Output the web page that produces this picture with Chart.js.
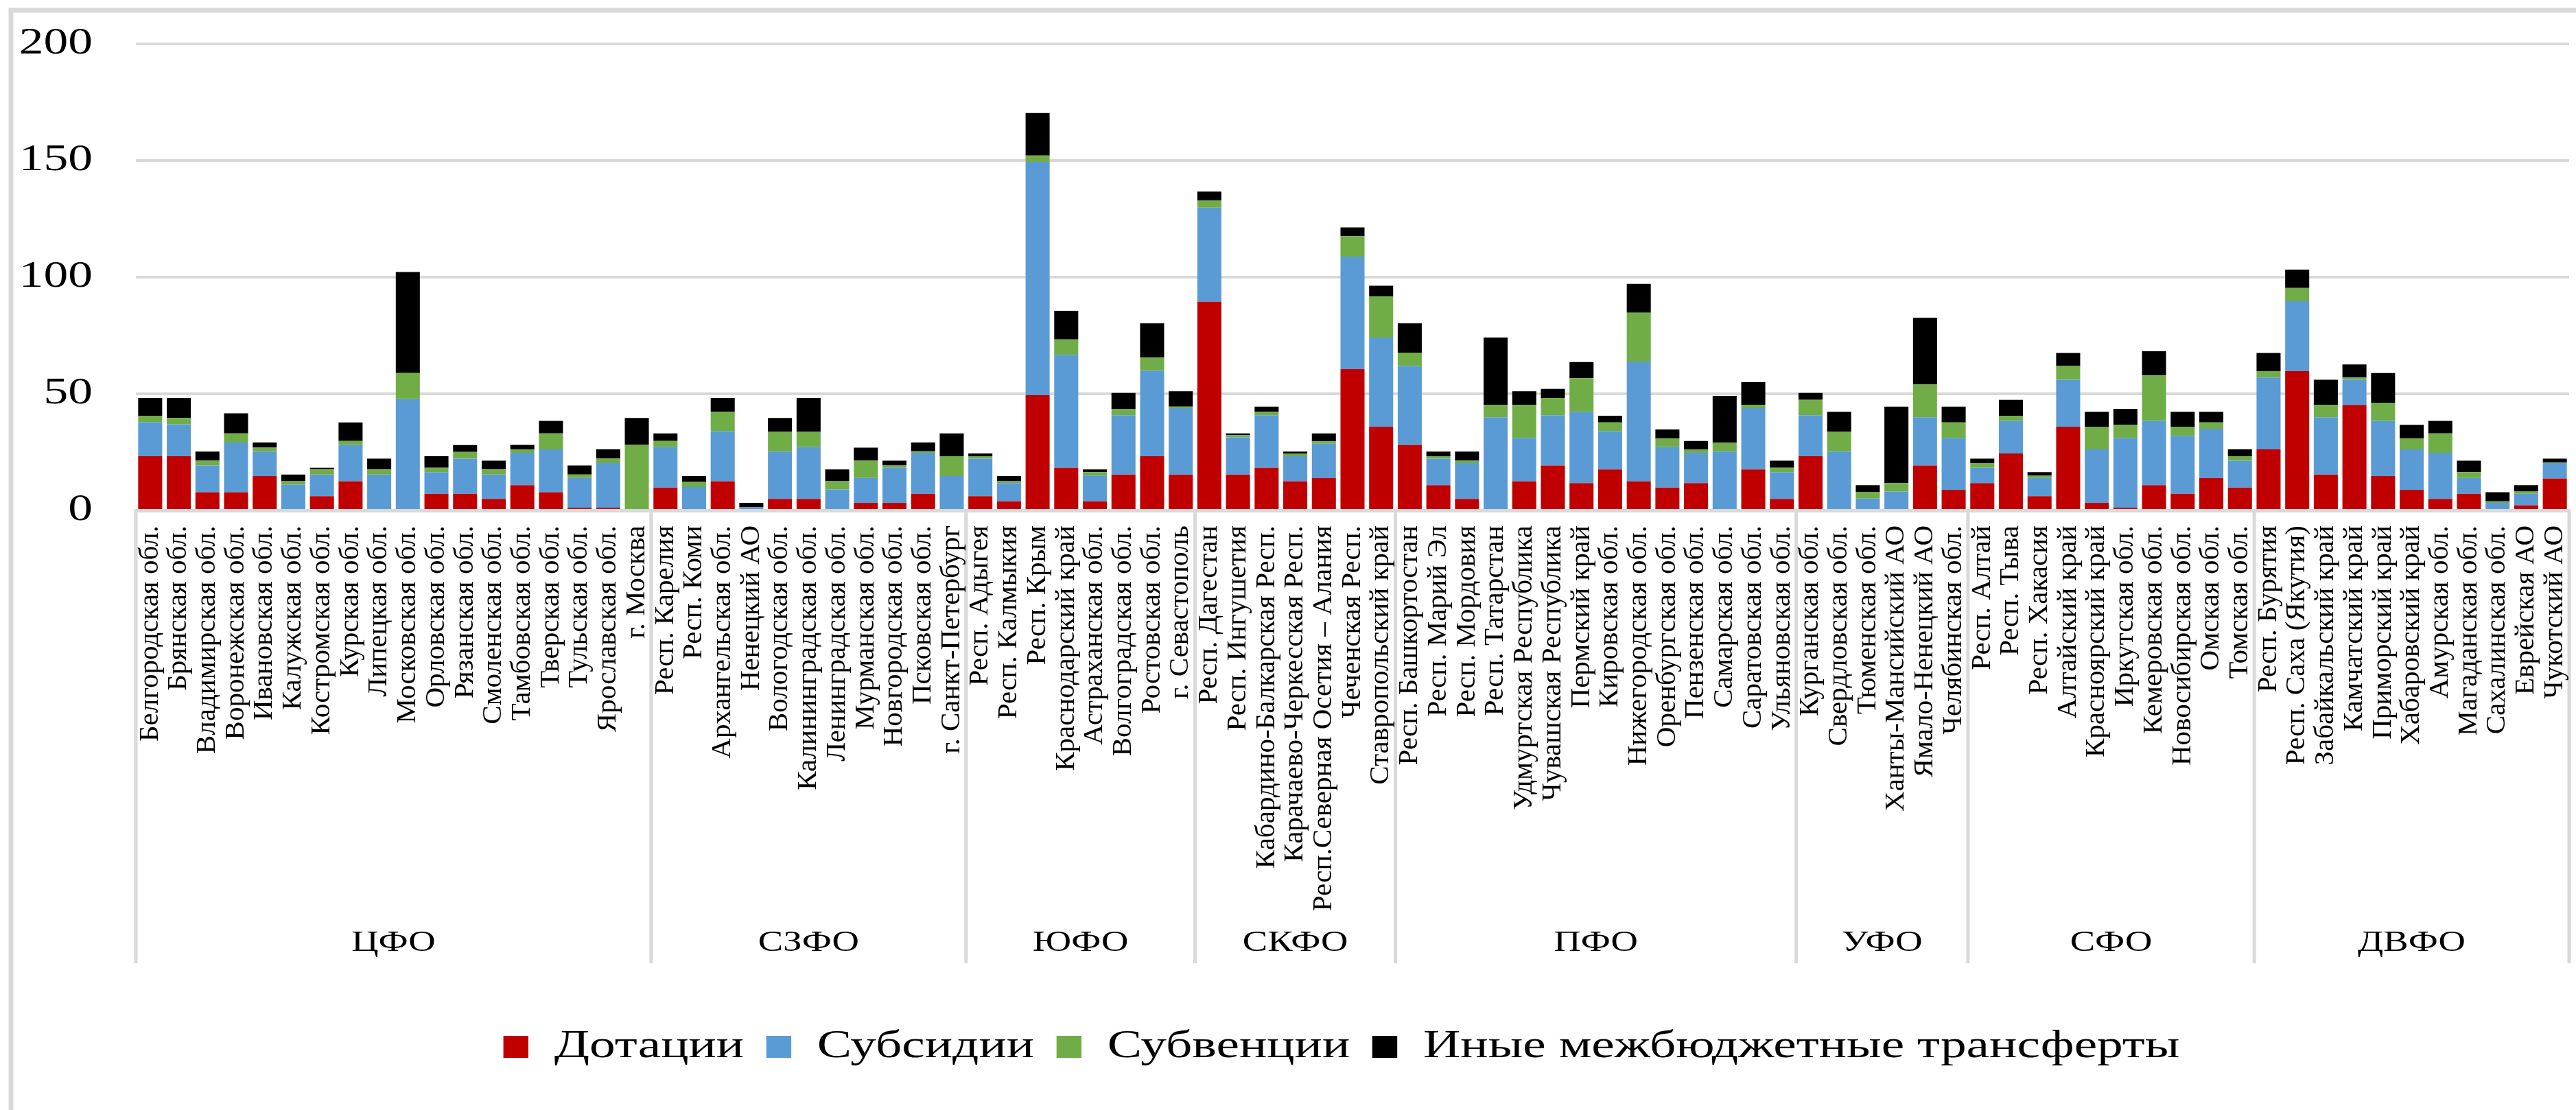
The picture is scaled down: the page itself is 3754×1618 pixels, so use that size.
<!DOCTYPE html>
<html><head><meta charset="utf-8">
<style>html,body{margin:0;padding:0;background:#fff;} canvas{display:block;}</style>
<script src="https://cdn.jsdelivr.net/npm/chart.js@4.4.1/dist/chart.umd.min.js"></script>
</head><body>
<canvas id="c" width="3754" height="1618" style="width:3754px;height:1618px"></canvas>
<script>
const regions = [
"Белгородская обл.","Брянская обл.","Владимирская обл.","Воронежская обл.","Ивановская обл.","Калужская обл.","Костромская обл.","Курская обл.","Липецкая обл.","Московская обл.","Орловская обл.","Рязанская обл.","Смоленская обл.","Тамбовская обл.","Тверская обл.","Тульская обл.","Ярославская обл.","г. Москва",
"Респ. Карелия","Респ. Коми","Архангельская обл.","Ненецкий АО","Вологодская обл.","Калининградская обл.","Ленинградская обл.","Мурманская обл.","Новгородская обл.","Псковская обл.","г. Санкт-Петербург",
"Респ. Адыгея","Респ. Калмыкия","Респ. Крым","Краснодарский край","Астраханская обл.","Волгоградская обл.","Ростовская обл.","г. Севастополь",
"Респ. Дагестан","Респ. Ингушетия","Кабардино-Балкарская Респ.","Карачаево-Черкесская Респ.","Респ.Северная Осетия – Алания","Чеченская Респ.","Ставропольский край",
"Респ. Башкортостан","Респ. Марий Эл","Респ. Мордовия","Респ. Татарстан","Удмуртская Республика","Чувашская Республика","Пермский край","Кировская обл.","Нижегородская обл.","Оренбургская обл.","Пензенская обл.","Самарская обл.","Саратовская обл.","Ульяновская обл.",
"Курганская обл.","Свердловская обл.","Тюменская обл.","Ханты-Мансийский АО","Ямало-Ненецкий АО","Челябинская обл.",
"Респ. Алтай","Респ. Тыва","Респ. Хакасия","Алтайский край","Красноярский край","Иркутская обл.","Кемеровская обл.","Новосибирская обл.","Омская обл.","Томская обл.",
"Респ. Бурятия","Респ. Саха (Якутия)","Забайкальский край","Камчатский край","Приморский край","Хабаровский край","Амурская обл.","Магаданская обл.","Сахалинская обл.","Еврейская АО","Чукотский АО"
];
const districts = ["ЦФО","СЗФО","ЮФО","СКФО","ПФО","УФО","СФО","ДВФО"];
const districtSizes = [18,11,8,7,14,6,10,11];
const dotacii = [
23.2,23.2,7.8,7.8,14.7,0,6.1,12.5,0,0,7.1,7.1,4.9,10.8,7.8,1.2,1.2,0,
9.8,0,12.5,0,4.9,4.9,0,3.2,3.2,7.1,0,
6.1,3.9,49.4,18.3,3.9,15.4,23.2,15.4,
89.5,15.4,18.3,12.5,13.9,60.6,35.9,
28.1,10.8,4.9,0,12.5,19.3,11.7,17.6,12.5,9.8,11.7,0,17.6,4.9,
23.2,0,0,0,19.3,8.8,
11.7,24.4,6.1,35.9,3.2,1.2,10.8,7.1,13.9,9.8,
26.2,59.7,15.4,45.2,14.7,8.8,4.9,7.1,0,2.2,13.7
];
const subsidii = [
14.7,13.7,11.5,21.3,10.5,11.0,9.3,15.6,15.4,47.7,9.3,15.1,10.5,13.9,18.4,12.7,19.1,0,
17.3,10.0,21.5,1.5,20.3,22.2,9.0,10.7,15.1,17.6,14.7,
16.1,7.8,100.0,48.4,11.0,25.4,36.7,28.4,
40.3,15.9,22.5,10.7,14.7,48.2,38.2,
33.8,11.4,15.4,39.9,18.6,21.5,30.6,16.4,51.3,17.3,13.0,25.2,26.2,11.5,
17.6,25.2,5.1,8.1,20.6,22.3,
6.6,14.0,7.8,20.1,23.0,29.9,27.6,24.9,21.1,11.5,
30.8,30.0,24.5,10.8,23.7,17.4,19.8,6.8,3.2,4.9,6.6
];
const subvencii = [
2.7,2.7,2.0,3.9,1.7,1.5,2.2,1.7,2.2,11.2,1.9,2.9,2.2,1.5,6.8,1.5,1.9,28.1,
2.7,2.2,8.3,0,8.5,6.6,3.5,7.4,1.0,0.7,8.5,
1.0,0.8,2.7,6.6,1.5,2.7,5.6,0.7,
3.0,1.0,1.5,1.2,1.0,8.8,17.6,
5.6,1.0,1.0,5.3,14.1,7.4,14.4,3.7,21.0,3.7,1.5,3.9,1.4,1.9,
6.6,8.5,2.7,3.6,14.1,6.6,
2.0,2.2,1.0,5.9,9.7,5.6,19.5,3.9,2.7,1.9,
2.7,5.7,5.3,1.0,7.8,4.6,8.3,2.5,0.7,1.0,0.2
];
const inye = [
7.6,8.6,3.9,8.6,2.2,2.9,0.7,7.9,4.6,43.3,4.9,2.9,3.7,1.9,5.4,3.9,4.0,11.5,
3.2,2.5,5.9,1.7,5.9,14.5,5.1,5.6,2.0,3.7,9.8,
1.2,2.2,18.3,12.3,1.2,6.9,14.7,6.6,
3.9,0.7,2.2,0.8,3.4,3.7,4.6,
12.7,2.0,3.9,28.9,5.9,3.9,6.9,2.9,12.3,3.9,3.6,20.0,9.8,3.0,
3.0,8.6,3.0,32.8,28.6,6.8,
1.9,6.8,1.5,5.6,6.4,6.8,10.3,6.4,4.6,3.0,
7.8,7.8,10.8,5.6,12.7,5.9,5.4,4.9,3.9,2.7,1.7
];
const yTicks = [0,50,100,150,200];

const GRID = '#d9d9d9';
const STRETCH = 1.3;
const LEGEND_CX = 1955;

const bounds = [0];
districtSizes.forEach(n => bounds.push(bounds[bounds.length-1] + n));
const centers = districtSizes.map((n,i) => bounds[i] + (n-1)/2);

const frame = {
  id: 'frame',
  beforeDraw(chart) {
    const c = chart.ctx;
    c.save();
    c.fillStyle = '#fff';
    c.fillRect(0,0,chart.width,chart.height);
    c.strokeStyle = GRID;
    c.lineWidth = 7;
    c.strokeRect(16,15,chart.width+40,chart.height+40);
    const xs = chart.scales.x;
    const top = chart.chartArea.bottom;
    const bot = chart.scales.x2.top + 60;
    c.lineWidth = 5;
    c.beginPath();
    bounds.forEach(b => { const px = xs.getPixelForValue(b - 0.5); c.moveTo(px, top); c.lineTo(px, bot); });
    c.stroke();
    c.restore();
  }
};

function stretchedFillText(ctx, k, fn) {
  const orig = CanvasRenderingContext2D.prototype.fillText;
  ctx.fillText = function(t, x, y, mw) {
    this.save(); this.translate(x, y); this.scale(k, 1);
    if (mw === undefined) orig.call(this, t, 0, 0); else orig.call(this, t, 0, 0, mw / k);
    this.restore();
  };
  try { fn(); } finally { delete ctx.fillText; }
}

const serif = 'Liberation Serif';
const chart = new Chart(document.getElementById('c'), {
  type: 'bar',
  data: {
    labels: regions,
    datasets: [
      {label: 'Дотации', data: dotacii, backgroundColor: '#C00000', xAxisID: 'x'},
      {label: 'Субсидии', data: subsidii, backgroundColor: '#5B9BD5', xAxisID: 'x'},
      {label: 'Субвенции', data: subvencii, backgroundColor: '#70AD47', xAxisID: 'x'},
      {label: 'Иные межбюджетные трансферты', data: inye, backgroundColor: '#000000', xAxisID: 'x'}
    ]
  },
  options: {
    responsive: false, animation: false, devicePixelRatio: 1,
    datasets: {bar: {categoryPercentage: 1, barPercentage: 0.84, borderWidth: 0}},
    layout: {padding: {left: 0, right: 10, top: 64, bottom: 53}},
    plugins: {
      legend: {position: 'bottom', labels: {font: {family: serif, size: 58}, color: '#000', boxWidth: 28, boxHeight: 32, padding: 25}},
      tooltip: {enabled: false}
    },
    scales: {
      x: {type: 'category', stacked: true, offset: true,
          grid: {display: false, drawTicks: false},
          border: {display: true, color: GRID, width: 5},
          ticks: {autoSkip: false, minRotation: 90, maxRotation: 90, padding: 22, color: '#000', font: {family: serif, size: 41}},
          afterFit: s => { s.height = 600; s.paddingLeft = 0; s.paddingRight = 0; }},
      x2: {type: 'linear', position: 'bottom', weight: 1, offset: false, min: -0.5, max: regions.length - 0.5,
          grid: {display: false, drawTicks: false, offset: false}, border: {display: false},
          afterBuildTicks: a => { a.ticks = centers.map(v => ({value: v})); },
          ticks: {autoSkip: false, minRotation: 0, maxRotation: 0, padding: 6, color: '#000', font: {family: serif, size: 42},
                  callback: (v, i) => districts[i]},
          afterFit: s => { s.height = 128; s.paddingLeft = 0; s.paddingRight = 0; }},
      y: {stacked: true, min: 0, max: 200,
          grid: {color: GRID, lineWidth: 4, drawTicks: false}, border: {display: false},
          afterBuildTicks: a => { a.ticks = yTicks.map(v => ({value: v})); },
          ticks: {padding: 63, color: '#000', font: {family: serif, size: 55}},
          afterFit: s => { s.width = 198; s.paddingTop = 0; s.paddingBottom = 0; }}
    }
  },
  plugins: [frame]
});

['y','x2'].forEach(id => {
  const sc = chart.scales[id];
  sc.drawLabels = function(ca) {
    stretchedFillText(this.ctx, STRETCH, () => Object.getPrototypeOf(this).drawLabels.call(this, ca));
  };
});
const lg = chart.legend;
lg.draw = function() {
  const ctx = this.ctx;
  const cx = (this.left + this.right) / 2;
  ctx.save();
  ctx.translate(LEGEND_CX, 0); ctx.scale(STRETCH, 1); ctx.translate(-cx, 0);
  Object.getPrototypeOf(this).draw.call(this);
  ctx.restore();
};
chart.draw();
</script>
</body></html>
